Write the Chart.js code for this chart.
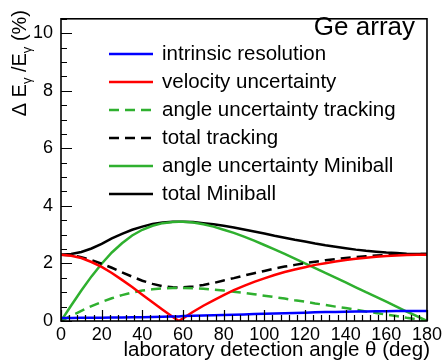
<!DOCTYPE html>
<html>
<head>
<meta charset="utf-8">
<script src="https://cdn.jsdelivr.net/npm/chart.js@4.4.0/dist/chart.umd.min.js"></script>
<style>
  html, body { margin: 0; padding: 0; background: #fff; }
  #wrap { width: 445px; height: 364px; }
</style>
</head>
<body>
<div id="wrap"><canvas id="geChart" width="445" height="364"></canvas></div>
<script>
// --- data ---
const angles = [0, 5, 10, 15, 20, 25, 30, 35, 40, 45, 50, 55, 58, 60, 65, 70, 75, 80, 85, 90,
  95, 100, 105, 110, 115, 120, 125, 130, 135, 140, 145, 150, 155, 160, 165, 170, 175, 180];

const intrinsic = [0.10, 0.10, 0.11, 0.11, 0.11, 0.12, 0.12, 0.13, 0.13, 0.14, 0.15, 0.16, 0.16, 0.17, 0.18, 0.19, 0.20, 0.21, 0.22, 0.23,
  0.24, 0.25, 0.26, 0.27, 0.28, 0.29, 0.30, 0.31, 0.31, 0.32, 0.33, 0.33, 0.34, 0.34, 0.35, 0.35, 0.35, 0.35];
const velocity = [2.30, 2.27, 2.19, 2.05, 1.88, 1.67, 1.43, 1.18, 0.91, 0.65, 0.39, 0.14, 0.00, 0.09, 0.32, 0.53, 0.72, 0.90, 1.07, 1.22,
  1.36, 1.48, 1.60, 1.70, 1.79, 1.87, 1.95, 2.01, 2.07, 2.12, 2.16, 2.20, 2.23, 2.26, 2.28, 2.29, 2.30, 2.30];
const angleTracking = [0.00, 0.18, 0.35, 0.52, 0.66, 0.79, 0.90, 0.99, 1.06, 1.10, 1.13, 1.15, 1.15, 1.15, 1.14, 1.12, 1.09, 1.06, 1.02, 0.98,
  0.93, 0.88, 0.83, 0.78, 0.72, 0.67, 0.61, 0.56, 0.50, 0.45, 0.39, 0.33, 0.28, 0.22, 0.17, 0.11, 0.06, 0.00];
const totalTracking = [2.30, 2.28, 2.22, 2.12, 1.99, 1.85, 1.69, 1.54, 1.40, 1.29, 1.21, 1.17, 1.16, 1.17, 1.20, 1.25, 1.32, 1.41, 1.49, 1.58,
  1.66, 1.74, 1.82, 1.89, 1.95, 2.01, 2.06, 2.11, 2.15, 2.19, 2.22, 2.25, 2.28, 2.29, 2.31, 2.32, 2.32, 2.33];
const angleMiniball = [0.00, 0.54, 1.06, 1.55, 1.99, 2.38, 2.70, 2.97, 3.17, 3.31, 3.40, 3.44, 3.45, 3.45, 3.42, 3.36, 3.28, 3.17, 3.06, 2.93,
  2.79, 2.64, 2.49, 2.33, 2.17, 2.00, 1.84, 1.67, 1.51, 1.34, 1.17, 1.00, 0.84, 0.67, 0.50, 0.33, 0.17, 0.00];
const totalMiniball = [2.30, 2.33, 2.40, 2.52, 2.68, 2.87, 3.03, 3.17, 3.28, 3.37, 3.42, 3.45, 3.45, 3.45, 3.44, 3.40, 3.36, 3.31, 3.25, 3.18,
  3.11, 3.04, 2.96, 2.89, 2.82, 2.76, 2.69, 2.63, 2.58, 2.53, 2.48, 2.44, 2.41, 2.38, 2.36, 2.34, 2.33, 2.33];

const seriesNames = ['intrinsic resolution', 'velocity uncertainty', 'angle uncertainty tracking',
  'total tracking', 'angle uncertainty Miniball', 'total Miniball'];

const xTickStep = 20, xMinorStep = 4;   // 0 .. 180
const yTickStep = 2, yMinorStep = 0.5;  // 0 .. 10

const FONT = "'Liberation Sans', Arial, Helvetica, sans-serif";
const GREEN = '#2fb02f';

function pts(vals) {
  return angles.map((a, i) => ({ x: a, y: vals[i] }));
}

function line(label, vals, color, dashed) {
  return {
    label: label,
    data: pts(vals),
    borderColor: color,
    backgroundColor: color,
    borderWidth: 2.5,
    borderDash: dashed ? [10, 6] : [],
    pointRadius: 0,
    tension: 0,
    fill: false
  };
}

// frame, inside ticks, legend, titles (ROOT style)
const rootStyle = {
  id: 'rootStyle',
  afterDraw(chart) {
    const { ctx, chartArea: a } = chart;
    const xs = chart.scales.x, ys = chart.scales.y;
    ctx.save();

    // frame
    ctx.strokeStyle = '#000';
    ctx.lineWidth = 1.6;
    ctx.strokeRect(a.left, a.top, a.right - a.left, a.bottom - a.top);

    // ticks pointing inwards
    ctx.lineWidth = 1.2;
    ctx.beginPath();
    for (let v = xs.min; v <= xs.max + 1e-6; v += xMinorStep) {
      const px = Math.round(xs.getPixelForValue(v)) + 0.5;
      const len = Math.abs(v % xTickStep) < 1e-6 ? 11 : 6;
      ctx.moveTo(px, a.bottom);
      ctx.lineTo(px, a.bottom - len);
    }
    for (let v = ys.min; v <= ys.max + 1e-6; v += yMinorStep) {
      const py = Math.round(ys.getPixelForValue(v)) + 0.5;
      const len = Math.abs(v % yTickStep) < 1e-6 ? 11 : 6;
      ctx.moveTo(a.left, py);
      ctx.lineTo(a.left + len, py);
    }
    ctx.stroke();

    // legend
    ctx.font = '20.5px ' + FONT;
    ctx.textBaseline = 'middle';
    ctx.textAlign = 'left';
    chart.data.datasets.forEach((ds, i) => {
      const yy = 54 + i * 28;
      ctx.strokeStyle = ds.borderColor;
      ctx.lineWidth = 2.5;
      ctx.setLineDash(ds.borderDash);
      ctx.beginPath();
      ctx.moveTo(109, yy);
      ctx.lineTo(153, yy);
      ctx.stroke();
      ctx.setLineDash([]);
      ctx.fillStyle = '#000';
      ctx.fillText(ds.label, 162, yy);
    });

    // header text
    ctx.font = '26px ' + FONT;
    ctx.textBaseline = 'alphabetic';
    ctx.textAlign = 'right';
    ctx.fillText('Ge array', 415, 35);

    // x title
    ctx.font = '20.5px ' + FONT;
    ctx.fillText('laboratory detection angle \u03b8 (deg)', 430, 356);

    // y title with subscripts, rotated
    const parts = [
      ['\u0394 E', 20, 0], ['\u03b3', 13, 5], [' /E', 20, 0], ['\u03b3', 13, 5], [' (%)', 20, 0]
    ];
    let total = 0;
    parts.forEach(p => { ctx.font = p[1] + 'px ' + FONT; total += ctx.measureText(p[0]).width; });
    ctx.translate(26, 10 + total);
    ctx.rotate(-Math.PI / 2);
    ctx.textAlign = 'left';
    let cx = 0;
    parts.forEach(p => {
      ctx.font = p[1] + 'px ' + FONT;
      ctx.fillText(p[0], cx, p[2]);
      cx += ctx.measureText(p[0]).width;
    });
    ctx.restore();
  }
};

const chart = new Chart(document.getElementById('geChart'), {
  type: 'line',
  data: {
    datasets: [
      line(seriesNames[0], intrinsic, '#0000ff', false),
      line(seriesNames[1], velocity, '#ff0000', false),
      line(seriesNames[2], angleTracking, GREEN, true),
      line(seriesNames[3], totalTracking, '#000000', true),
      line(seriesNames[4], angleMiniball, GREEN, false),
      line(seriesNames[5], totalMiniball, '#000000', false)
    ]
  },
  options: {
    responsive: false,
    animation: false,
    devicePixelRatio: 1,
    layout: { padding: { top: 9, right: 14, left: 0, bottom: 0 } },
    plugins: { legend: { display: false }, tooltip: { enabled: false } },
    scales: {
      x: {
        type: 'linear',
        min: 0,
        max: 180,
        grid: { display: false, drawTicks: false },
        border: { display: false },
        ticks: { stepSize: xTickStep, padding: 3, color: '#000', font: { family: FONT, size: 18 }, maxRotation: 0 },
        afterFit(scale) { scale.height = 43; }
      },
      y: {
        type: 'linear',
        min: 0,
        max: 10.5,
        grid: { display: false, drawTicks: false },
        border: { display: false },
        ticks: { stepSize: yTickStep, includeBounds: false, padding: 8, color: '#000', font: { family: FONT, size: 18 } },
        afterFit(scale) { scale.width = 61; }
      }
    }
  },
  plugins: [rootStyle]
});
</script>
</body>
</html>
